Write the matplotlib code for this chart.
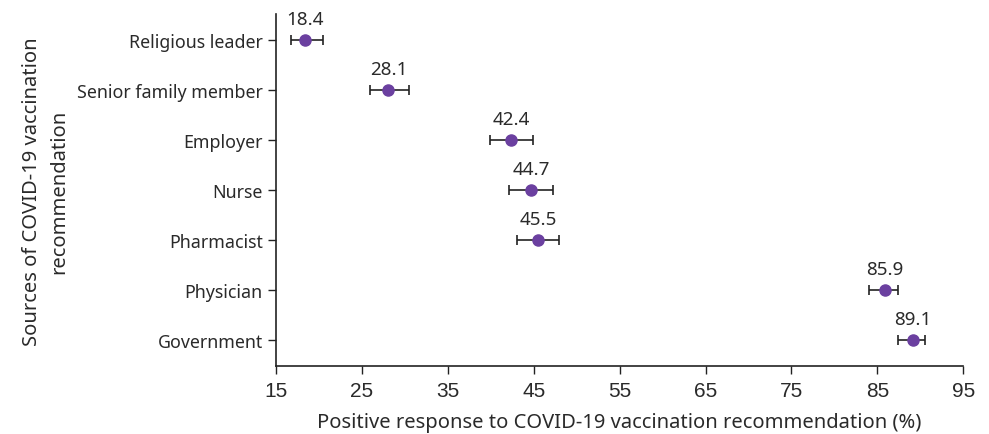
import matplotlib
matplotlib.use('Agg')
import matplotlib.pyplot as plt

# 数据
sources = ['Religious leader', 'Senior family member', 'Employer', 'Nurse',
           'Pharmacist', 'Physician', 'Government']
values = [18.4, 28.1, 42.4, 44.7, 45.5, 85.9, 89.1]
lower = [16.7, 25.9, 39.9, 42.1, 43.1, 84.0, 87.4]
upper = [20.5, 30.5, 44.9, 47.2, 47.9, 87.4, 90.6]
x_ticks = [15, 25, 35, 45, 55, 65, 75, 85, 95]

point_color = '#6B40A0'
text_color = '#2a2a2a'

fig = plt.figure(figsize=(9.89, 4.35), dpi=100)
ax = fig.add_axes([0.279, 0.156, 0.695, 0.8095])

y_pos = list(range(len(sources)))
err = [[v - l for v, l in zip(values, lower)], [u - v for v, u in zip(values, upper)]]
ax.errorbar(values, y_pos, xerr=err, fmt='o', color=point_color, ecolor='#222222',
            elinewidth=1.2, capsize=3.5, capthick=1.2, markersize=8, zorder=3)

# 数值标注
for v, y in zip(values, y_pos):
    ax.text(v, y - 0.24, '%.1f' % v, ha='center', va='bottom', fontsize=13.5,
            family='Noto Sans', color=text_color)

ax.set_yticks(y_pos)
ax.set_yticklabels(sources, family='Noto Sans', fontsize=12.8, color=text_color)
ax.set_ylim(len(sources) - 0.48, -0.52)
ax.set_xlim(15, 95)
ax.set_xticks(x_ticks)
ax.set_xticklabels([str(t) for t in x_ticks], family='Liberation Sans', fontsize=15,
                   color=text_color)
ax.tick_params(axis='both', direction='out', length=6, width=1.0, color='#222222')
ax.tick_params(axis='x', pad=5)

for side in ['top', 'right']:
    ax.spines[side].set_visible(False)
for side in ['left', 'bottom']:
    ax.spines[side].set_linewidth(1.2)
    ax.spines[side].set_color('#222222')

ax.set_xlabel('Positive response to COVID-19 vaccination recommendation (%)',
              family='Noto Sans', fontsize=14.5, labelpad=8, color=text_color)
fig.text(0.046, 0.56, 'Sources of COVID-19 vaccination\nrecommendation', rotation=90,
         ha='center', va='center', family='Noto Sans', fontsize=14.5, color=text_color,
         linespacing=1.45)

plt.savefig('out.png', dpi=100)
